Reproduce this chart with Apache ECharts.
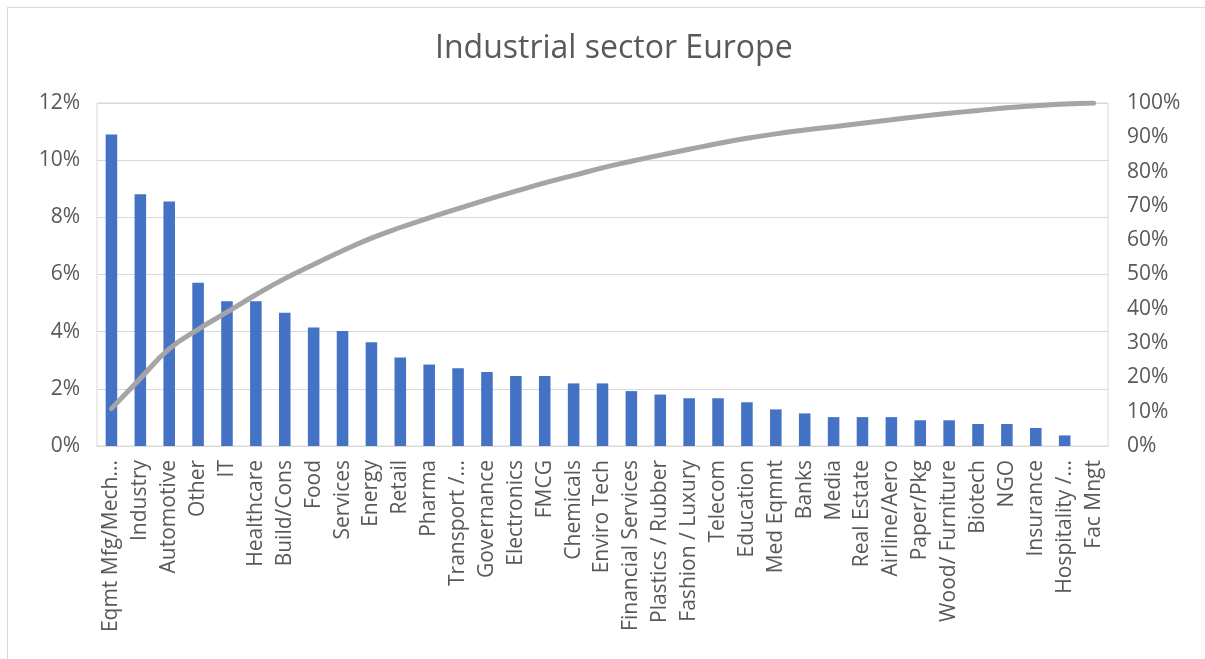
<!DOCTYPE html>
<html>
<head>
<meta charset="utf-8">
<script src="https://cdn.jsdelivr.net/npm/echarts@6/dist/echarts.min.js"></script>
<style>
  html, body { margin: 0; padding: 0; background: #fff; }
  #frame { position: absolute; left: 7px; top: 7px; width: 1210px; height: 670px; border: 1px solid #d9d9d9; box-sizing: border-box; }
  #chart { position: absolute; left: 0; top: 0; width: 1205px; height: 659px; }
</style>
</head>
<body>
<div id="frame"></div>
<div id="chart"></div>
<script>
// 各行业占比（%）与累计占比（%）
const sectors = ['Eqmt Mfg/Mech...','Industry','Automotive','Other','IT','Healthcare','Build/Cons','Food','Services','Energy','Retail','Pharma','Transport /...','Governance','Electronics','FMCG','Chemicals','Enviro Tech','Financial Services','Plastics / Rubber','Fashion / Luxury','Telecom','Education','Med Eqmnt','Banks','Media','Real Estate','Airline/Aero','Paper/Pkg','Wood/ Furniture','Biotech','NGO','Insurance','Hospitality /...','Fac Mngt'];
const share = [10.9,8.81,8.55,5.71,5.06,5.06,4.66,4.15,4.02,3.63,3.10,2.85,2.72,2.59,2.45,2.45,2.19,2.19,1.92,1.80,1.67,1.67,1.53,1.28,1.14,1.01,1.01,1.01,0.90,0.90,0.77,0.77,0.63,0.37,0];
const cumulative = [10.9,19.7,28.3,34.0,39.0,44.1,48.8,52.9,56.9,60.6,63.7,66.5,69.2,71.8,74.3,76.7,78.9,81.1,83.0,84.8,86.5,88.2,89.7,91.0,92.1,93.1,94.1,95.1,96.1,97.0,97.8,98.6,99.2,99.7,100];
const leftTicks = {min: 0, max: 12, interval: 2};
const rightTicks = {min: 0, max: 100, interval: 10};

const txt = '#595959';
const font = '"Open Sans", "Noto Sans", sans-serif';
const chart = echarts.init(document.getElementById('chart'));
chart.setOption({
  animation: false,
  textStyle: {fontFamily: font},
  title: {
    text: 'Industrial sector Europe', left: 430, top: 28,
    textStyle: {color: txt, fontSize: 32, fontWeight: 'normal', fontFamily: font}
  },
  grid: {left: 97, right: 97, top: 103, bottom: 213, show: true, borderColor: '#d9d9d9', borderWidth: 1},
  xAxis: {
    type: 'category', data: sectors,
    axisLine: {lineStyle: {color: '#d9d9d9'}},
    axisTick: {show: false},
    axisLabel: {interval: 0, rotate: 90, color: txt, fontSize: 21, margin: 14, fontFamily: font}
  },
  yAxis: [
    {type: 'value', ...leftTicks,
     axisLabel: {formatter: '{value}%', color: txt, fontSize: 21, margin: 17, fontFamily: font},
     splitLine: {lineStyle: {color: '#d9d9d9'}}, axisLine: {show: false}, axisTick: {show: false}},
    {type: 'value', ...rightTicks, position: 'right',
     axisLabel: {formatter: '{value}%', color: txt, fontSize: 21, margin: 19, fontFamily: font},
     splitLine: {show: false}, axisLine: {show: false}, axisTick: {show: false}}
  ],
  series: [
    {name: 'Share', type: 'bar', data: share, barWidth: '40%', itemStyle: {color: '#4472C4'}, yAxisIndex: 0},
    {name: 'Cumulative', type: 'line', data: cumulative, yAxisIndex: 1, smooth: true, symbol: 'none',
     lineStyle: {color: '#A5A5A5', width: 5, cap: 'round'}}
  ]
});
</script>
</body>
</html>
